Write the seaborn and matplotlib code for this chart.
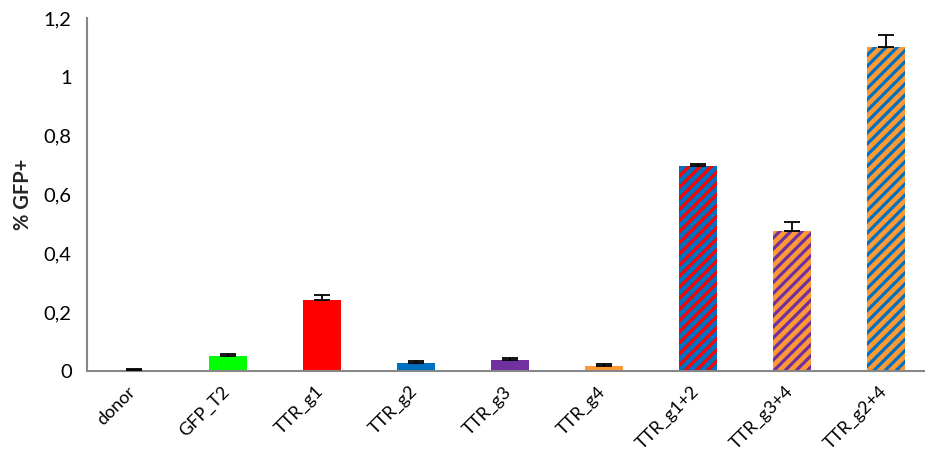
import matplotlib
matplotlib.use("Agg")
import matplotlib.pyplot as plt
import seaborn as sns
import pandas as pd
import numpy as np
from matplotlib.ticker import FuncFormatter, MultipleLocator

# Samples and measured % GFP+ (mean and upper error)
samples = ["donor", "GFP_T2", "TTR_g1", "TTR_g2", "TTR_g3", "TTR_g4",
           "TTR_g1+2", "TTR_g3+4", "TTR_g2+4"]
gfp_mean = [0.003, 0.051, 0.241, 0.027, 0.036, 0.016, 0.697, 0.476, 1.102]
gfp_err = [0.004, 0.006, 0.016, 0.007, 0.008, 0.008, 0.006, 0.032, 0.040]

# Bar fill colours; combination bars get a second (stripe) colour
fill_colors = ["#FFFFFF", "#00FF00", "#FF0000", "#0070C0", "#7030A0", "#FF9933",
               "#0070C0", "#FF9933", "#FF9933"]
stripe_colors = [None, None, None, None, None, None,
                 "#FF0000", "#7030A0", "#0070C0"]

sns.set_style("white")
plt.rcParams["font.family"] = ["Lato", "DejaVu Sans"]
plt.rcParams["hatch.linewidth"] = 2.3

df = pd.DataFrame({"sample": samples, "gfp": gfp_mean})

fig = plt.figure(figsize=(9.25, 4.57), dpi=100)
ax = fig.add_axes([87 / 925, 86 / 457, 846 / 925, 353 / 457])

sns.barplot(data=df, x="sample", y="gfp", hue="sample", palette=fill_colors,
            width=0.4, dodge=False, legend=False, saturation=1, ax=ax,
            errorbar=None)

for patch, stripe in zip(ax.patches, stripe_colors):
    patch.set_linewidth(0)
    if stripe is not None:
        patch.set_edgecolor(stripe)
        patch.set_hatch("///")

x = np.arange(len(samples))
ax.errorbar(x, gfp_mean, yerr=[np.zeros(len(gfp_err)), gfp_err], fmt="none",
            ecolor="black", elinewidth=1.3, capsize=6, capthick=1.3, zorder=5)

ax.set_xlim(-0.5, len(samples) - 0.5)
ax.set_ylim(0, 1.2)
ax.yaxis.set_major_locator(MultipleLocator(0.2))
ax.yaxis.set_major_formatter(FuncFormatter(
    lambda v, _: "0" if abs(v) < 1e-9 else ("%g" % round(v, 1)).replace(".", ",")))

# Category boundaries carry the x tick marks; labels sit under bar centres
ax.set_xticks(np.arange(len(samples) + 1) - 0.5)
ax.set_xticklabels([])
for i, name in enumerate(samples):
    ax.annotate(name, xy=(i, 0), xycoords=("data", "axes fraction"),
                xytext=(-1, -13), textcoords="offset points",
                rotation=45, rotation_mode="anchor", ha="right", va="center",
                fontsize=13, color="black")

for side in ("top", "right"):
    ax.spines[side].set_visible(False)
for side in ("left", "bottom"):
    ax.spines[side].set_color("#878787")
    ax.spines[side].set_linewidth(1.5)
ax.tick_params(axis="both", direction="out", length=5, width=1.5, color="#878787",
               labelcolor="black")
ax.tick_params(axis="y", pad=6, labelsize=14.5)

ax.set_xlabel("")
ax.set_ylabel("% GFP+", fontsize=14.5, fontweight="bold", labelpad=8)

fig.savefig("out.png", dpi=100)
